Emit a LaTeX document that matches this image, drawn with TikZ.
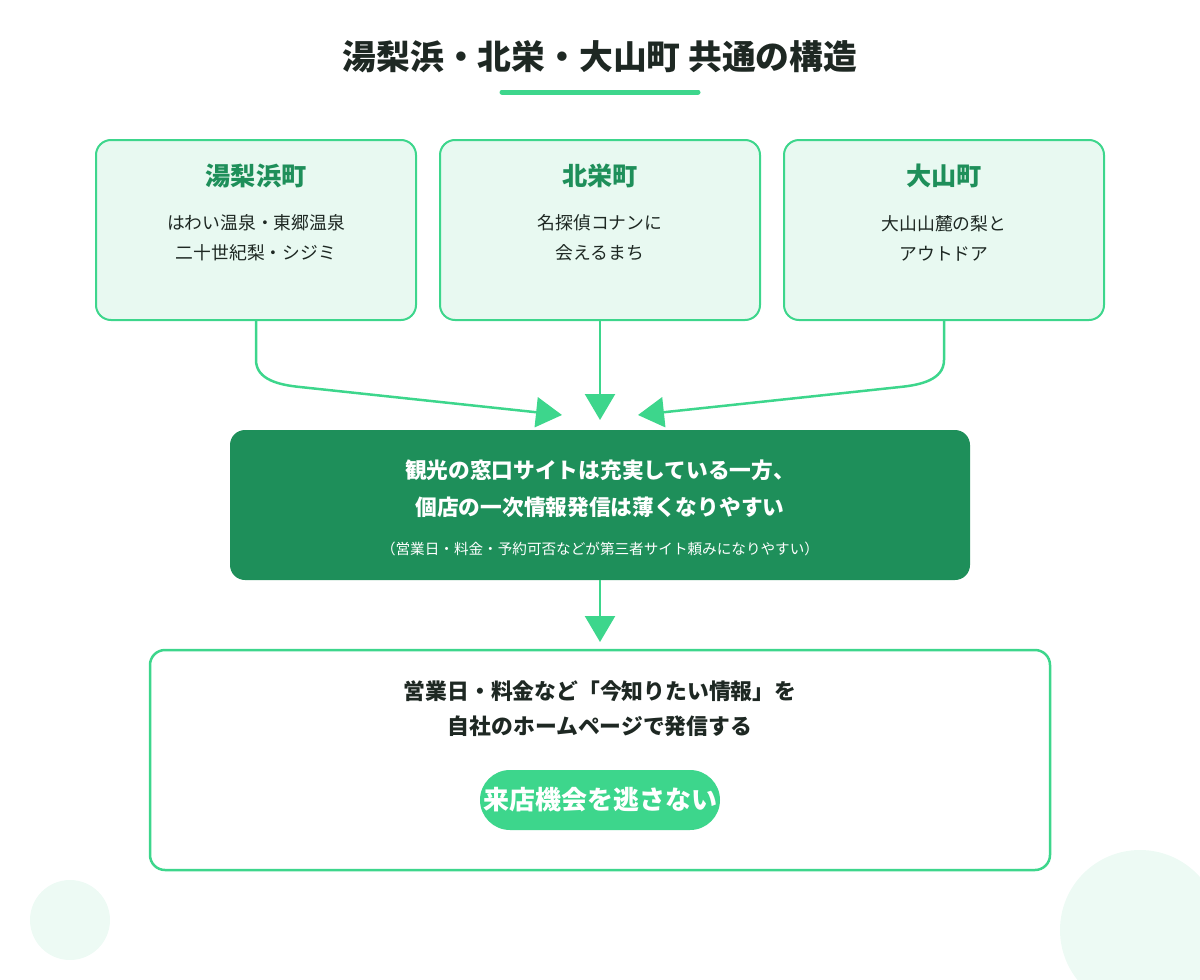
\documentclass[tikz,border=0pt]{standalone}
\usepackage{fontspec}
\setmainfont{Noto Sans CJK JP}
\usetikzlibrary{arrows.meta}
\definecolor{gline}{RGB}{61, 214, 140}
\definecolor{gdark}{RGB}{30, 143, 90}
\definecolor{gpale}{RGB}{232, 249, 241}
\definecolor{gtext}{RGB}{30, 40, 35}
\tikzset{
  town/.style={draw=gline, line width=2pt, fill=gpale, rounded corners=15pt},
  flow/.style={draw=gline, line width=2.5pt, -{Triangle[length=26pt, width=30pt]}},
  txt/.style={text=gtext, font=\fontsize{17.8}{30}\selectfont, align=center},
}
\begin{document}
\begin{tikzpicture}[x=1pt, y=-1pt]
\useasboundingbox (0,0) rectangle (1200,980);
\fill[gpale!80] (70,920) circle (40pt);
\fill[gpale!80] (1140,930) circle (80pt);
\node (title) [text=gtext, font=\bfseries\fontsize{33.8}{38}\selectfont] at (600,57) {湯梨浜・北栄・大山町 共通の構造};
\draw[gline, line width=5pt, line cap=round] (502,92) -- (698,92);
% three towns
\draw[town] (96,140) rectangle (416,320);
\draw[town] (440,140) rectangle (760,320);
\draw[town] (784,140) rectangle (1104,320);
\node (h1) [text=gdark, font=\bfseries\fontsize{25.2}{28}\selectfont] at (256,176) {湯梨浜町};
\node (h2) [text=gdark, font=\bfseries\fontsize{25.2}{28}\selectfont] at (600,176) {北栄町};
\node (h3) [text=gdark, font=\bfseries\fontsize{25.2}{28}\selectfont] at (944,176) {大山町};
\node (t1) [txt] at (256,238) {はわい温泉・東郷温泉\\二十世紀梨・シジミ};
\node (t2) [txt] at (600,238) {名探偵コナンに\\会えるまち};
\node (t3) [txt] at (944,238) {大山山麓の梨と\\アウトドア};
\coordinate (b1) at (256,320);
\coordinate (b2) at (600,320);
\coordinate (b3) at (944,320);
\coordinate (e1) at (562,415);
\coordinate (e2) at (600,420);
\coordinate (e3) at (638,415);
\draw[flow] (b1) -- (256,360) .. controls (256,380) and (280,385) .. (300,387) -- (e1);
\draw[flow] (b2) -- (e2);
\draw[flow] (b3) -- (944,360) .. controls (944,380) and (920,385) .. (900,387) -- (e3);
% issue
\draw[fill=gdark, rounded corners=15pt, draw=none] (230,430) rectangle (970,580);
\node (issue) [text=white, font=\bfseries\fontsize{21.7}{37}\selectfont, align=center] at (600,489) {観光の窓口サイトは充実している一方、\\個店の一次情報発信は薄くなりやすい};
\node (note) [text=white, font=\fontsize{14.6}{16}\selectfont] at (600,549) {（営業日・料金・予約可否などが第三者サイト頼みになりやすい）};
\coordinate (b4) at (600,580);
\coordinate (e4) at (600,642);
\draw[flow] (b4) -- (e4);
% answer
\draw[draw=gline, line width=2.5pt, fill=white, rounded corners=15pt] (150,650) rectangle (1050,870);
\node (ans) [text=gtext, font=\bfseries\fontsize{21.8}{35}\selectfont, align=center] at (600,709) {営業日・料金など「今知りたい情報」を\\自社のホームページで発信する};
\fill[gline, rounded corners=30pt] (480,770) rectangle (720,830);
\node (goal) [text=white, font=\bfseries\fontsize{26}{28}\selectfont] at (600,800) {来店機会を逃さない};
\end{tikzpicture}
\end{document}
